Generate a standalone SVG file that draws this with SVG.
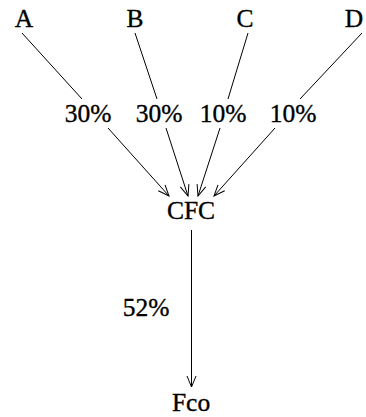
<svg xmlns="http://www.w3.org/2000/svg" width="366" height="417" viewBox="0 0 366 417">
<style>
text{font-family:"Liberation Serif","DejaVu Serif",serif;font-size:25.5px;fill:#000;stroke:#000;stroke-width:0.35;text-anchor:middle}
.e{stroke:#000;stroke-width:1;fill:none}
</style>
<defs>
<marker id="ah" markerUnits="userSpaceOnUse" markerWidth="14" markerHeight="12" refX="0" refY="0" viewBox="-12 -6 14 12" orient="auto" overflow="visible">
<path d="M-11,-4.5 L0,0 L-11,4.5" fill="none" stroke="#000" stroke-width="1"/>
</marker>
</defs>
<rect width="366" height="417" fill="#fff"/>
<g id="connectors">
<path class="e" d="M22,33 L82,99"/>
<path class="e" d="M108,128 L169,196" marker-end="url(#ah)"/>
<path class="e" d="M135,33 L157,99"/>
<path class="e" d="M166,128 L188,196" marker-end="url(#ah)"/>
<path class="e" d="M248,33 L228,99"/>
<path class="e" d="M220,128 L198,196" marker-end="url(#ah)"/>
<path class="e" d="M362,33 L300,99"/>
<path class="e" d="M275,128 L214,196" marker-end="url(#ah)"/>
<path class="e" d="M191.5,230 L191.5,387" marker-end="url(#ah)"/>
<text x="88" y="122">30%</text>
<text x="159" y="122">30%</text>
<text x="223" y="122">10%</text>
<text x="293" y="122">10%</text>
<text x="146" y="316">52%</text>
</g>
<g id="A"><text x="24" y="27">A</text></g>
<g id="B"><text x="135" y="27">B</text></g>
<g id="C"><text x="245" y="27">C</text></g>
<g id="D"><text x="354" y="27">D</text></g>
<g id="CFC"><text x="191" y="219">CFC</text></g>
<g id="Fco"><text x="191" y="411">Fco</text></g>
</svg>
